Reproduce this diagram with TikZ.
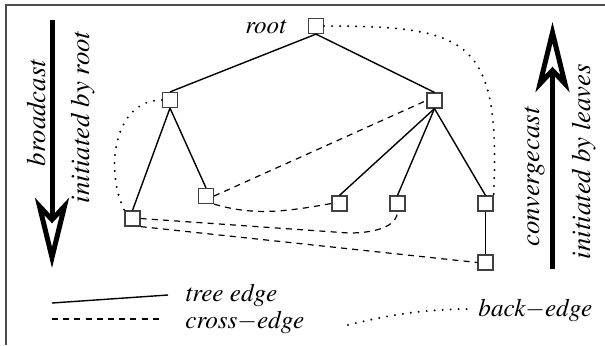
\documentclass[tikz,border=0pt]{standalone}
\usepackage[T1]{fontenc}
\usepackage{mathptmx}
\usetikzlibrary{arrows.meta}

\begin{document}
\begin{tikzpicture}[x=0.5pt, y=-0.5pt,
    vertex/.style={draw=black!75, line width=0.6pt, fill=white, inner sep=0pt, minimum size=7.5pt},
    treeedge/.style={line width=0.7pt},
    crossedge/.style={line width=0.6pt, dash pattern=on 3pt off 2.6pt},
    backedge/.style={line width=1.1pt, line cap=round, dash pattern=on 0pt off 4pt},
    castarrow/.style={line width=2.5pt, -{Stealth[fill=white, length=35pt, width=17pt, inset=9pt]}},
    sidelabel/.style={rotate=90, anchor=base, font=\fontsize{13.4}{16}\selectfont\itshape},
    keylabel/.style={anchor=base west, inner sep=0.5pt, text depth=0pt, font=\fontsize{12.6}{14}\selectfont\itshape}]
    \useasboundingbox (0,0) rectangle (605,345);
    % Frame
    \draw[black!70, line width=1pt] (6,345) |- (605,4.5);

    % Tree nodes
    \node[vertex] (root) at (316,26) {};
    \node[vertex] (lt) at (170,100) {};
    \node[vertex] (rt) at (434.5,100.5) {};
    \node[vertex] (lt1) at (132.5,218.5) {};
    \node[vertex] (lt2) at (206,196) {};
    \node[vertex] (rt1) at (339.5,203.5) {};
    \node[vertex] (rt2) at (397.5,203.5) {};
    \node[vertex] (rt3) at (485.5,203.5) {};
    \node[vertex] (rt4) at (485.5,262.5) {};
    \node[anchor=base east, font=\fontsize{12.5}{15}\selectfont\itshape] (rootlabel) at (293,33) {root};

    % Tree edges
    \draw[treeedge] (root.south) -- (lt.north);
    \draw[treeedge] (root.south) -- (rt.north);
    \draw[treeedge] (lt.south) -- (lt1.north);
    \draw[treeedge] (lt.south) -- (lt2.north);
    \draw[treeedge] (rt.south) -- (rt1.north);
    \draw[treeedge] (rt.south) -- (rt2.north);
    \draw[treeedge] (rt.south) -- (rt3.north);
    \draw[treeedge] (rt3.south) -- (rt4.north);

    % Cross edges
    \draw[crossedge] (lt2.east) -- (rt.west);
    \draw[crossedge] (lt2.south east) .. controls +(40,12) and +(-45,8) .. (rt1.west);
    \draw[crossedge] (lt1.east) -- ++(208,14.5) .. controls +(33,0) and +(0,12) .. (rt2.south);
    \draw[crossedge] (lt1.south east) -- (rt4.west);

    % Back edges
    \draw[backedge] (root.east) .. controls +(146,0) and +(7,-156) .. (rt3.north east);
    \draw[backedge] (lt.west) .. controls +(-48,0) and +(-20,-41) .. (lt1.north west);

    % Broadcast / convergecast arrows
    \coordinate (bctop) at (52,20);
    \coordinate (bcend) at (52,268);
    \draw[castarrow] (bctop) -- (bcend);
    \node[sidelabel] (bclabel) at (45,113) {broadcast};
    \node[sidelabel] (bcwho) at (89,117.5) {initiated by root};

    \coordinate (cvbot) at (552.5,269);
    \coordinate (cvend) at (552.5,22);
    \draw[castarrow] (cvbot) -- (cvend);
    \node[sidelabel] (cvlabel) at (539,177) {convergecast};
    \node[sidelabel] (cvwho) at (590,161.5) {initiated by leaves};

    % Legend
    \coordinate (k1a) at (52,303);
    \coordinate (k1b) at (168,295);
    \draw[treeedge] (k1a) -- (k1b);
    \node[keylabel] (k1) at (184,301) {tree edge};
    \coordinate (k2a) at (52,319);
    \coordinate (k2b) at (163,319);
    \draw[crossedge] (k2a) -- (k2b);
    \node[keylabel] (k2) at (184,328) {cross$-$edge};
    \coordinate (k3a) at (348,325);
    \coordinate (k3b) at (474,309);
    \draw[backedge] (k3a) .. controls +(40,-10) and +(-50,0) .. (k3b);
    \node[keylabel] (k3) at (477,316) {back$-$edge};
\end{tikzpicture}
\end{document}
